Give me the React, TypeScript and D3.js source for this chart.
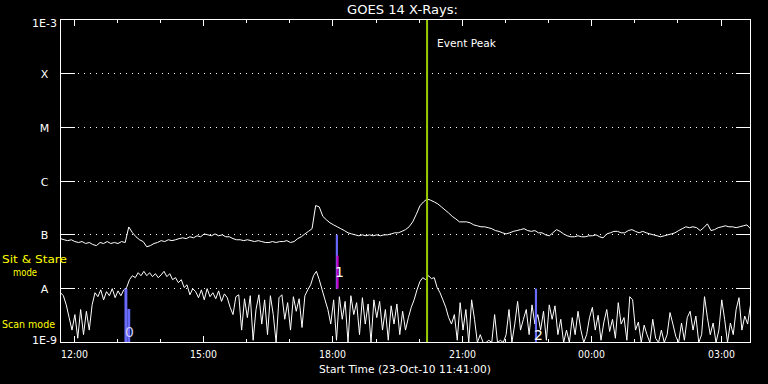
import React, { useEffect } from "react";
import * as d3 from "d3";

// ---- Data ----
const START = new Date(2010, 9, 23, 11, 41, 0);
const END = new Date(2010, 9, 24, 3, 41, 0);
const UPPER_STEP_MIN = 5; // 1-8 Å channel sampling (minutes)
const LOWER_STEP_MIN = 4; // 0.5-4 Å channel sampling (minutes)

// Flux in units of 1e-9 W/m^2
const upperFlux = [
  85, 81, 78, 81, 75, 72, 75, 69, 72, 66, 63, 72, 69, 75, 69, 72, 69, 75, 72,
  140, 110, 92,
  81, 75, 60, 63, 69, 72, 78, 75, 81, 78, 81, 85, 88, 85, 92, 88, 96, 92, 104, 100,
  96, 104, 96, 100, 92, 92, 85, 81, 81, 78, 81, 78, 75, 78, 75, 72, 72, 75, 72, 75,
  75, 78, 72, 75, 85,
  92, 104, 116, 130,
  350, 330, 220, 190, 167, 153, 141, 130, 120, 109, 104, 100, 96, 100, 96,
  100, 96, 100, 96, 100, 100, 104, 109, 109, 116, 125, 141, 174, 240, 345,
  408, 464, 440, 408, 375, 330, 290, 255, 220, 198, 174, 174, 174, 167, 153,
  147, 141, 141, 136, 130, 120, 116, 109, 104, 109, 116, 120, 125, 130, 120,
  116, 120, 109, 109, 100, 96, 109, 125, 116, 104, 96, 92, 92, 96, 92,
  92, 96, 96, 100, 92, 88, 104, 109, 116, 116, 109, 109, 120, 125, 116,
  109, 116, 109, 104, 100, 96, 92, 96, 100, 104, 109, 120, 130, 141, 136,
  141, 136, 120, 136, 160, 120, 125, 136, 141, 147, 141, 141, 136, 141, 147,
  153, 130,
];

const lowerFlux = [
  8.4, 7.4, 5, 2.9, 1.7, 3.3, 1.2, 4.1, 1.4, 3.8,
  1.7, 5, 8.4, 7.1, 9.5, 6.2, 8.8, 7.4, 10, 6.8,
  9.1, 7.4, 9.5, 10.5, 14.7, 17.4, 16, 19.8, 17.4, 21,
  17.4, 19.8, 16.7, 19, 16, 18, 21, 16.7, 19, 14.7,
  16, 12.9, 14.7, 10.5, 11.8, 7.7, 10, 8.8, 6.8, 9.5,
  6.2, 10, 7.1, 8.4, 6.5, 9.1, 5.8, 8, 6.8, 4.5,
  3.3, 7.1, 7.7, 1.7, 6.5, 2.9, 7.4, 1.1, 4.1, 7.7,
  2.2, 6.2, 1.4, 7.4, 3.3, 1, 6.8, 7.7, 2.7, 5.5,
  1.7, 7.1, 3.8, 6.5, 1.9, 7.4, 9.5, 11.8, 17.4, 21,
  14.7, 9.5, 6.2, 4.1, 2.2, 6.2, 1.1, 7.1, 2.7, 5.8,
  1, 7.4, 3.3, 5.5, 1.4, 6.8, 2.2, 5.2, 1, 6.2,
  2.9, 5.8, 1.7, 4.1, 1.1, 4.8, 2.2, 5.2, 1.4, 3.8,
  1.7, 2.9, 4.5, 6.2, 9.5, 13.5, 16, 14.7, 17.4, 15.4,
  16, 10.5, 8.4, 6.2, 4.5, 2.9, 2.2, 3.3, 1.1, 5.5,
  1.7, 4.1, 1, 6.2, 2.7, 1, 1.4, 1, 1, 1.1,
  1, 3.3, 1, 1.1, 1, 1.4, 4.1, 1, 2.2, 5.8,
  1.7, 2.7, 4.1, 1.4, 5, 2.2, 3.3, 1.7, 3.8, 1.1,
  5, 2.7, 4.8, 1.4, 2.7, 1, 1.7, 1, 2.9, 1.4,
  3.8, 1.7, 1, 1.4, 2.9, 4.5, 1.7, 3.2, 1.1, 2.4,
  4.1, 1.6, 2.7, 1.2, 5.5, 2.2, 2.9, 1.1, 7.1, 6.2,
  1.7, 2.4, 1, 2.1, 1.4, 1, 2.7, 1.2, 1, 1.7,
  1, 1.4, 3.6, 2.2, 1.3, 1, 2.3, 1.1, 2.9, 3.8,
  1.7, 3.1, 1, 1.4, 7.1, 2.9, 1.4, 2.3, 1, 1.7,
  6.2, 2.7, 1, 2.3, 1.4, 4.1, 6.8, 1.7, 3.1, 2.2,
  5,
];

const levelValues = [1e-9, 1e-8, 1e-7, 1e-6, 1e-5, 1e-4, 1e-3];
const levelLabels = ["1E-9", "A", "B", "C", "M", "X", "1E-3"];

const eventPeakTime = new Date(2010, 9, 23, 20, 11, 0);

const barStarts = [
  new Date(2010, 9, 23, 13, 10), new Date(2010, 9, 23, 13, 14),
  new Date(2010, 9, 23, 18, 4), new Date(2010, 9, 23, 18, 5),
  new Date(2010, 9, 23, 22, 41),
];
const barEnds = [
  new Date(2010, 9, 23, 13, 14), new Date(2010, 9, 23, 13, 18),
  new Date(2010, 9, 23, 18, 7), new Date(2010, 9, 23, 18, 8),
  new Date(2010, 9, 23, 22, 44),
];
const barLow = [1e-9, 1e-9, 1e-8, 1e-8, 1e-9];
const barHigh = [1e-8, 4.2e-9, 1e-7, 4.1e-8, 1e-8];
const barKind = ["scan", "scan", "scan", "stare", "scan"];

const markTexts = ["0", "1", "2"];
const markTimes = [
  new Date(2010, 9, 23, 13, 17), new Date(2010, 9, 23, 18, 9), new Date(2010, 9, 23, 22, 46),
];
const markFlux = [1.24e-9, 1.67e-8, 1.1e-9];

// ---- Component ----
const W = 768;
const H = 384;
const FONT = "DejaVu Sans, sans-serif";
const COLORS: Record<string, string> = { scan: "#6a6aff", stare: "#c400c4" };

export default function App() {
  useEffect(() => {
    document.body.style.margin = "0";
    document.body.style.background = "#000";
  }, []);

  const x = d3.scaleTime().domain([START, END]).range([60.5, 750.5]);
  const y = d3.scaleLog().domain([1e-9, 1e-3]).range([342.5, 19.5]);
  const crisp = (v: number) => Math.round(v - 0.5) + 0.5;

  const upperLine = d3
    .line<number>()
    .x((_, i) => x(d3.timeMinute.offset(START, i * UPPER_STEP_MIN)))
    .y((d) => y(Math.max(d * 1e-9, 1e-9)));
  const lowerLine = d3
    .line<number>()
    .x((_, i) => x(d3.timeMinute.offset(START, i * LOWER_STEP_MIN)))
    .y((d) => y(Math.max(d * 1e-9, 1e-9)));

  const hours = d3.timeHour.range(START, END);

  return (
    <svg
      width={W}
      height={H}
      style={{ position: "absolute", left: 0, top: 0, display: "block", background: "#000" }}
      fontFamily={FONT}
    >
      <rect x={0} y={0} width={W} height={H} fill="#000" />

      {/* dotted level lines and inner ticks */}
      {levelValues.slice(1, -1).map((v, i) => (
        <g key={"lvl" + i}>
          <line x1={78} x2={736} y1={crisp(y(v))} y2={crisp(y(v))} stroke="#fff" strokeWidth={1} strokeDasharray="1,5" />
          <line x1={60} x2={75} y1={crisp(y(v))} y2={crisp(y(v))} stroke="#fff" strokeWidth={1} />
          <line x1={736} x2={751} y1={crisp(y(v))} y2={crisp(y(v))} stroke="#fff" strokeWidth={1} />
        </g>
      ))}

      {/* time ticks */}
      {hours.map((h, i) => {
        const major = h.getHours() % 3 === 0;
        const len = major ? 7 : 4;
        const xx = crisp(x(h));
        return (
          <g key={"t" + i}>
            <line x1={xx} x2={xx} y1={19} y2={19 + len} stroke="#fff" />
            <line x1={xx} x2={xx} y1={343} y2={343 - len} stroke="#fff" />
            {major && (
              <text x={xx} y={358} fill="#fff" fontSize={10} textAnchor="middle" textLength={27} lengthAdjust="spacingAndGlyphs">
                {d3.timeFormat("%H:%M")(h)}
              </text>
            )}
          </g>
        );
      })}

      {/* data */}
      <path d={upperLine(upperFlux) || ""} fill="none" stroke="#fff" strokeWidth={1} />
      <path d={lowerLine(lowerFlux) || ""} fill="none" stroke="#fff" strokeWidth={1} />

      {/* observation bars */}
      {barStarts.map((s, i) => (
        <rect
          key={"b" + i}
          x={x(s)}
          width={x(barEnds[i]) - x(s)}
          y={y(barHigh[i])}
          height={y(barLow[i]) - y(barHigh[i])}
          fill={COLORS[barKind[i]]}
        />
      ))}
      {markTexts.map((t, i) => (
        <text key={"m" + i} x={x(markTimes[i])} y={y(markFlux[i])} fill={i === 0 ? "#ccccff" : "#fff"} fontSize={14} textAnchor="middle">
          {t}
        </text>
      ))}

      {/* event peak */}
      <line x1={x(eventPeakTime)} x2={x(eventPeakTime)} y1={19} y2={343} stroke="#99cc00" strokeWidth={2} />
      <text x={437} y={47} fill="#fff" fontSize={11} textLength={59} lengthAdjust="spacingAndGlyphs">
        Event Peak
      </text>

      {/* frame */}
      <rect x={60.5} y={19.5} width={690} height={323} fill="none" stroke="#fff" strokeWidth={1} />

      {/* y labels */}
      {levelValues.map((v, i) => {
        const off = i === 0 ? 1.5 : i === levelValues.length - 1 ? 7.5 : 4.5;
        return (
          <text key={"yl" + i} x={44.5} y={y(v) + off} fill="#fff" fontSize={11} textAnchor="middle">
            {levelLabels[i]}
          </text>
        );
      })}

      {/* mode labels */}
      <text x={2} y={263} fill="#ffff00" fontSize={11} textLength={65} lengthAdjust="spacingAndGlyphs">Sit &amp; Stare</text>
      <text x={13} y={276} fill="#ffff00" fontSize={11} textLength={24} lengthAdjust="spacingAndGlyphs">mode</text>
      <text x={2} y={328} fill="#ffff00" fontSize={11} textLength={53} lengthAdjust="spacingAndGlyphs">Scan mode</text>

      {/* titles */}
      <text x={402.5} y={14} fill="#fff" fontSize={12} textAnchor="middle" textLength={111} lengthAdjust="spacingAndGlyphs">
        GOES 14 X-Rays:
      </text>
      <text x={405} y={373} fill="#fff" fontSize={11} textAnchor="middle" textLength={172} lengthAdjust="spacingAndGlyphs">
        Start Time (23-Oct-10 11:41:00)
      </text>
    </svg>
  );
}
